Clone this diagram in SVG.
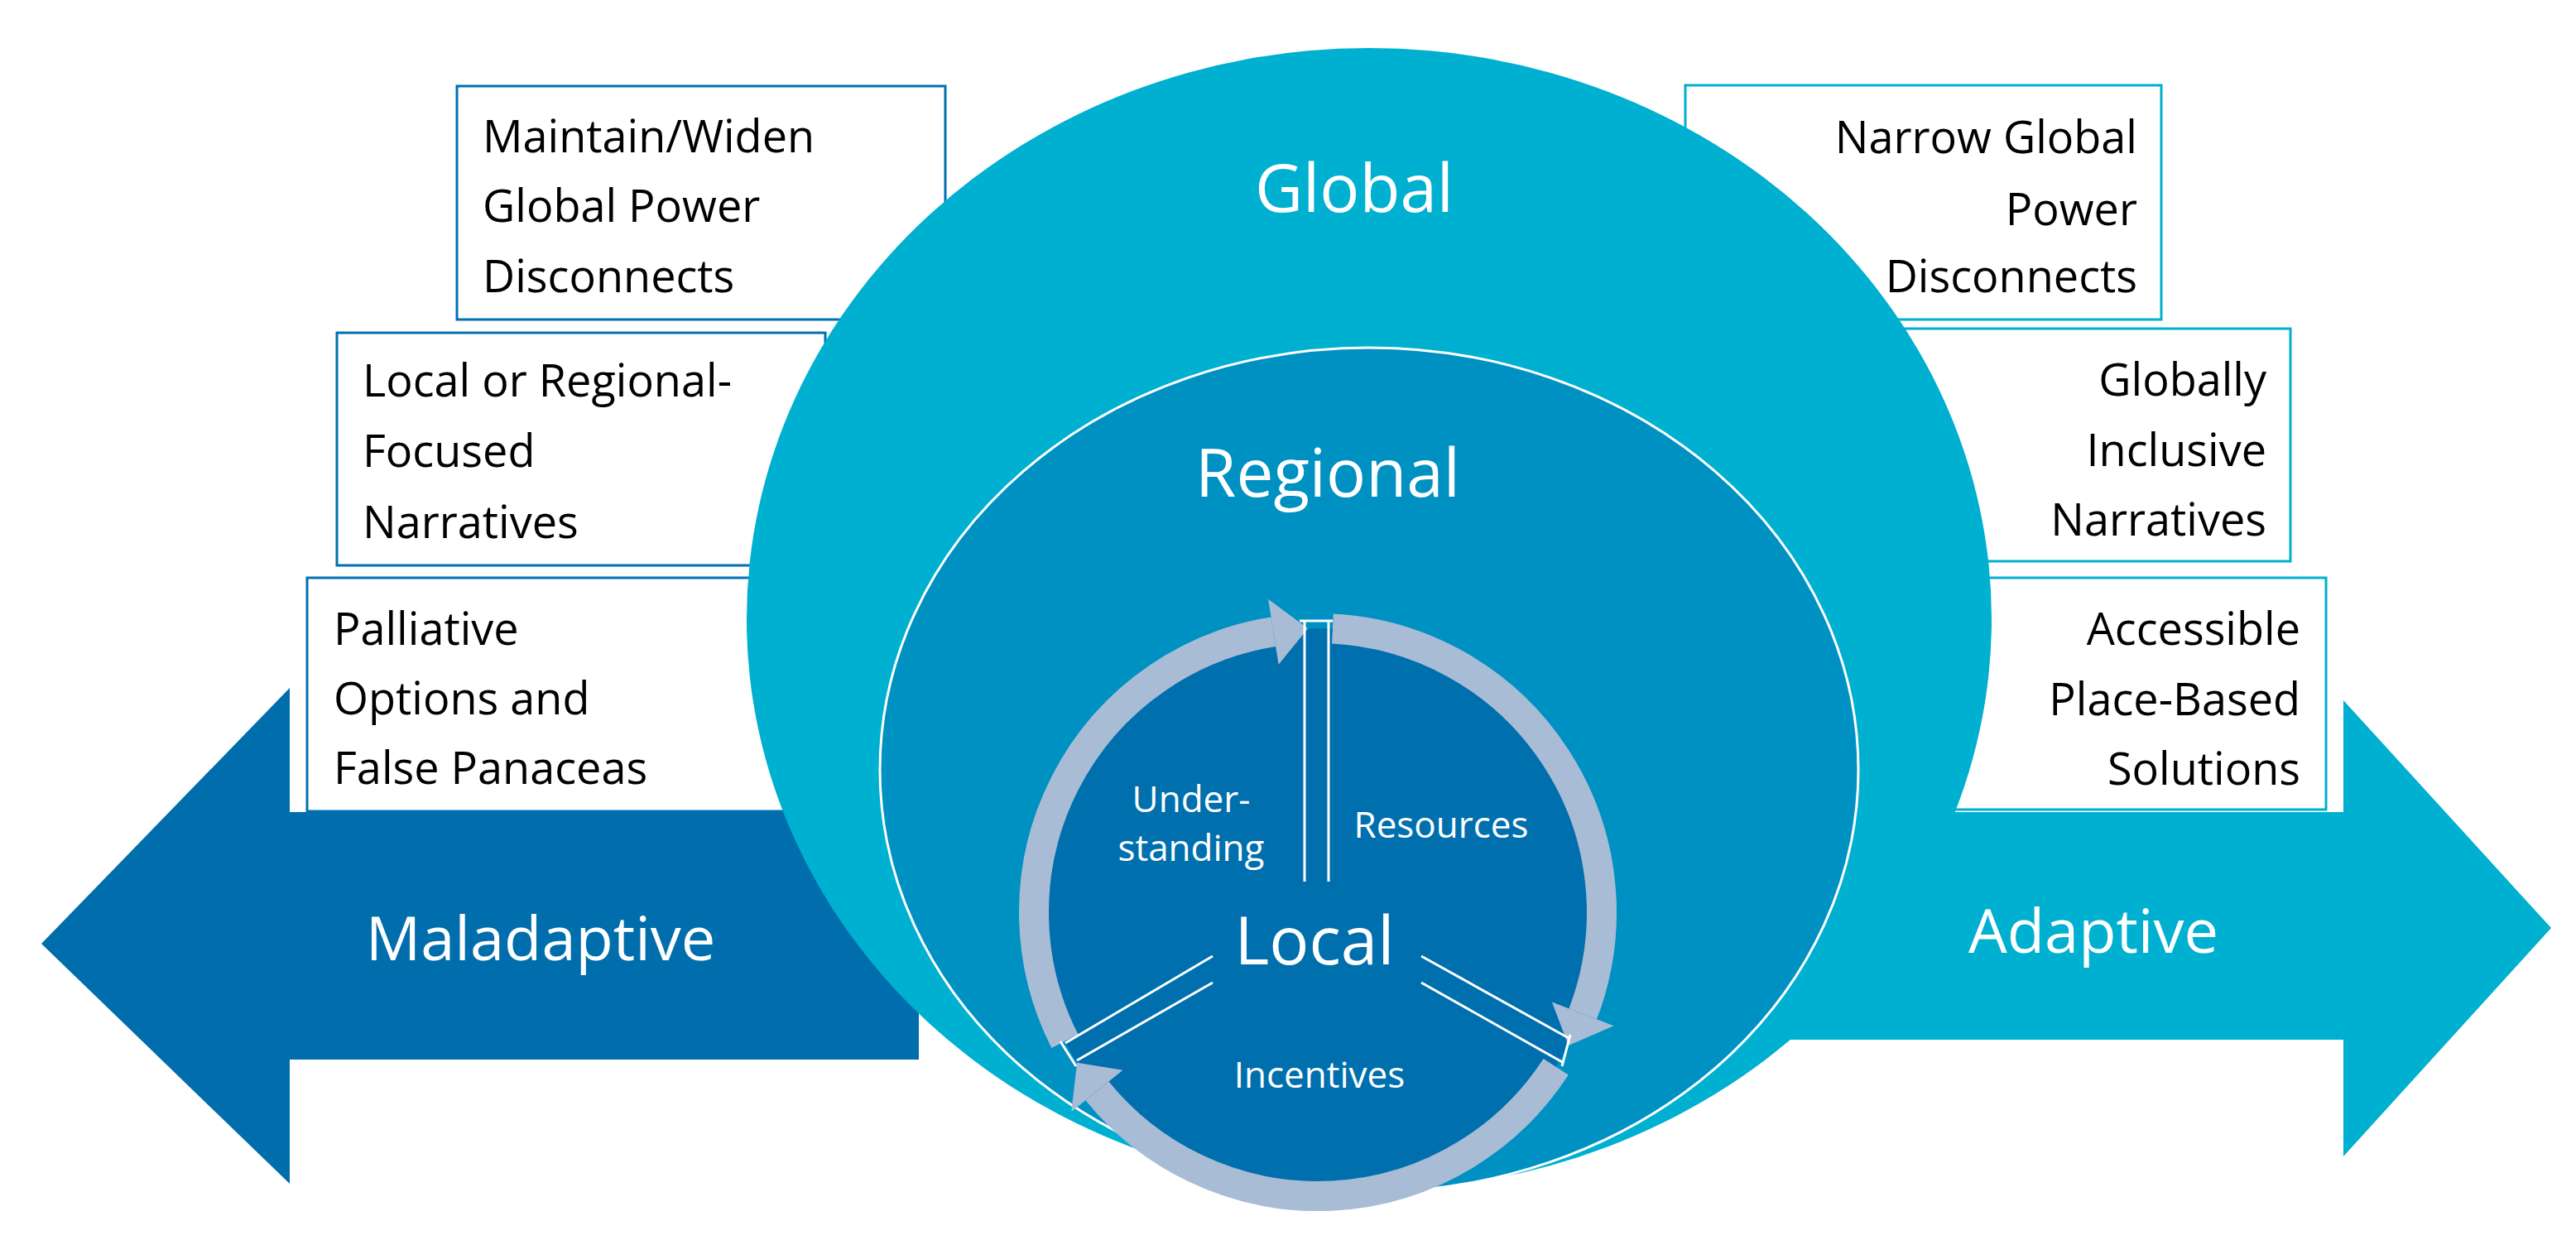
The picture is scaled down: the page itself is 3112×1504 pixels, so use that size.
<svg xmlns="http://www.w3.org/2000/svg" width="3112" height="1504" viewBox="0 0 3112 1504">
<style>
.bx{fill:#fff;stroke-width:3}
.l{stroke:#0070b0}
.r{stroke:#00b0d0}
.t{font-family:"Open Sans","Liberation Sans",sans-serif;font-size:54px;fill:#000}
.w{font-family:"Open Sans","Liberation Sans",sans-serif;fill:#fff}
.ring{fill:none;stroke:#a9bcd6;stroke-width:36}
.sp{stroke:#fff;stroke-width:3;fill:none}
</style>
<g id="maladaptive">
<polygon points="50,1140 350,831 350,981 1110,981 1110,1280 350,1280 350,1430" fill="#006eac"/>
<text class="w" x="653" y="1160" font-size="74" text-anchor="middle">Maladaptive</text>
</g>
<g id="adaptive">
<polygon points="3082,1121 2831,846 2831,981 2101,981 2101,1256 2831,1256 2831,1397" fill="#00b0d0"/>
<text class="w" x="2529" y="1151" font-size="74" text-anchor="middle">Adaptive</text>
</g>
<g id="box-maintain"><rect class="bx l" x="552" y="104" width="590" height="282"/>
<text class="t" x="583"><tspan y="184">Maintain/Widen</tspan><tspan x="583" y="268">Global Power</tspan><tspan x="583" y="353">Disconnects</tspan></text></g>
<g id="box-localfocused"><rect class="bx l" x="407" y="402" width="590" height="281"/>
<text class="t" x="438"><tspan y="479">Local or Regional-</tspan><tspan x="438" y="564">Focused</tspan><tspan x="438" y="650">Narratives</tspan></text></g>
<g id="box-palliative"><rect class="bx l" x="371" y="698" width="590" height="282"/>
<text class="t" x="403"><tspan y="779">Palliative</tspan><tspan x="403" y="863">Options and</tspan><tspan x="403" y="947">False Panaceas</tspan></text></g>
<g id="box-narrow"><rect class="bx r" x="2036" y="103" width="575" height="283"/>
<text class="t" x="2582" text-anchor="end"><tspan y="185">Narrow Global</tspan><tspan x="2582" y="272">Power</tspan><tspan x="2582" y="353">Disconnects</tspan></text></g>
<g id="box-inclusive"><rect class="bx r" x="2200" y="397" width="567" height="281"/>
<text class="t" x="2738" text-anchor="end"><tspan y="478">Globally</tspan><tspan x="2738" y="563">Inclusive</tspan><tspan x="2738" y="647">Narratives</tspan></text></g>
<g id="box-accessible"><rect class="bx r" x="2240" y="698" width="570" height="280"/>
<text class="t" x="2779" text-anchor="end"><tspan y="779">Accessible</tspan><tspan x="2779" y="864">Place-Based</tspan><tspan x="2779" y="948">Solutions</tspan></text></g>
<g id="global"><ellipse cx="1654" cy="748" rx="752" ry="690" fill="#00b0d0"/>
<text class="w" x="1636" y="256" font-size="80" text-anchor="middle">Global</text></g>
<g id="regional"><ellipse cx="1654" cy="930" rx="591" ry="510" fill="#0091c3" stroke="#fff" stroke-width="3"/>
<text class="w" x="1604" y="600" font-size="80" text-anchor="middle">Regional</text></g>
<g id="local"><circle cx="1592" cy="1102" r="343" fill="#006fad"/>
<text class="w" x="1588" y="1165" font-size="80" text-anchor="middle">Local</text>
<text class="w" x="1439" y="981" font-size="44" text-anchor="middle">Under-</text>
<text class="w" x="1439" y="1040" font-size="44" text-anchor="middle">standing</text>
<text class="w" x="1741" y="1012" font-size="44" text-anchor="middle">Resources</text>
<text class="w" x="1594" y="1314" font-size="44" text-anchor="middle">Incentives</text></g>
<g id="connectors">
<g id="cycle-seg"><path class="ring" d="M1609.9 759.5 A343 343 0 0 1 1912.2 1224.9"/><polygon fill="#a9bcd6" points="1949.6,1239.3 1894.8,1263 1874.9,1210.6"/></g>
<g transform="rotate(120 1592 1102)"><path class="ring" d="M1609.9 759.5 A343 343 0 0 1 1912.2 1224.9"/><polygon fill="#a9bcd6" points="1949.6,1239.3 1894.8,1263 1874.9,1210.6"/></g>
<g transform="rotate(240 1592 1102)"><path class="ring" d="M1609.9 759.5 A343 343 0 0 1 1912.2 1224.9"/><polygon fill="#a9bcd6" points="1949.6,1239.3 1894.8,1263 1874.9,1210.6"/></g>
<path class="sp" d="M1576 1065 V750 M1605 1065 V750 M1570 750 H1610"/>
<path class="sp" d="M1717 1155 L1895 1254 M1717 1187 L1889 1284 M1897 1250 L1887 1288"/>
<path class="sp" d="M1465 1155 L1287 1260 M1465 1187 L1301 1281 M1281 1258 L1300 1288"/>
</g>
</svg>
